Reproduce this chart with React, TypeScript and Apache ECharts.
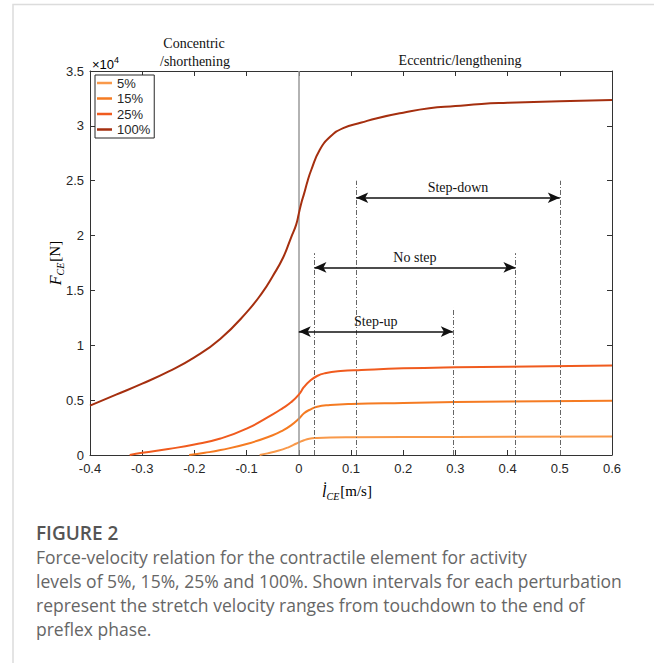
import React, { useEffect, useRef } from "react";
import * as echarts from "echarts";

// Velocity of the contractile element [m/s] and force [x10^4 N]
const x5 = [-0.075, -0.06, -0.04, -0.02, -0.01, 0, 0.01, 0.02, 0.035, 0.06, 0.1, 0.3, 0.6];
const f5 = [0, 0.015, 0.038, 0.07, 0.092, 0.115, 0.135, 0.148, 0.155, 0.16, 0.162, 0.165, 0.168];

const x15 = [-0.21, -0.18, -0.15, -0.1, -0.05, -0.03, -0.015, 0, 0.01, 0.02, 0.035, 0.06, 0.1, 0.2, 0.3, 0.4, 0.6];
const f15 = [0, 0.02, 0.045, 0.1, 0.18, 0.225, 0.27, 0.33, 0.38, 0.41, 0.44, 0.455, 0.465, 0.475, 0.483, 0.488, 0.495];

const x25 = [-0.324, -0.3, -0.25, -0.2, -0.15, -0.1, -0.05, -0.03, -0.015, 0, 0.01, 0.02, 0.035, 0.05, 0.08, 0.12, 0.2, 0.3, 0.4, 0.6];
const f25 = [0, 0.02, 0.055, 0.095, 0.15, 0.24, 0.37, 0.43, 0.48, 0.55, 0.62, 0.67, 0.72, 0.745, 0.765, 0.775, 0.79, 0.8, 0.805, 0.815];

const x100 = [-0.4, -0.35, -0.3, -0.25, -0.2, -0.15, -0.1, -0.07, -0.05, -0.03, -0.015, -0.005, 0, 0.005, 0.01, 0.017, 0.024, 0.04, 0.06, 0.085, 0.12, 0.15, 0.2, 0.25, 0.3, 0.35, 0.4, 0.5, 0.6];
const f100 = [0.45, 0.55, 0.65, 0.76, 0.89, 1.06, 1.3, 1.48, 1.63, 1.8, 1.98, 2.1, 2.2, 2.3, 2.38, 2.5, 2.6, 2.78, 2.9, 2.98, 3.03, 3.07, 3.12, 3.16, 3.18, 3.2, 3.21, 3.225, 3.235];

const seriesNames = ["5%", "15%", "25%", "100%"];

// Perturbation intervals: start / end velocity, arrow height and dashed-line top
const intervalNames = ["Step-up", "No step", "Step-down"];
const intervalStart = [0, 0.03, 0.11];
const intervalEnd = [0.295, 0.415, 0.5];
const intervalArrowY = [1.125, 1.71, 2.345];
const intervalTop = [1.34, 1.84, 2.5];

// Axis ticks
const xMin = -0.4, xMax = 0.6, xStep = 0.1;
const yMin = 0, yMax = 3.5, yStep = 0.5;

const captionTitle = "FIGURE 2";
const captionLines = [
  "Force-velocity relation for the contractile element for activity",
  "levels of 5%, 15%, 25% and 100%. Shown intervals for each perturbation",
  "represent the stretch velocity ranges from touchdown to the end of",
  "preflex phase.",
];

const colors = ["#f9994a", "#f57b22", "#f05b1e", "#a52f0f"];

const SANS = "Liberation Sans";
const SERIF = "Liberation Serif";
const AX = "#333333";

export default function App() {
  const ref = useRef<HTMLDivElement>(null);
  useEffect(() => {
    if (!ref.current) return;
    const chart = echarts.init(ref.current, null, { renderer: "svg" });
    const xs = [x5, x15, x25, x100];
    const fs = [f5, f15, f25, f100];

    const curveSeries = seriesNames.map((name, k) => ({
      name,
      type: "line",
      xAxisIndex: 0,
      yAxisIndex: 0,
      showSymbol: false,
      symbol: "none",
      smooth: 0.5,
      data: xs[k].map((x, i) => [x, fs[k][i]]),
      lineStyle: { color: colors[k], width: 2 },
      itemStyle: { color: colors[k] },
      z: 3 + k,
    }));

    const verticalLines: any[] = [];
    const uniq = new Map<number, number>();
    intervalStart.forEach((v, i) => {
      if (v !== 0) uniq.set(v, Math.max(uniq.get(v) || 0, intervalTop[i]));
    });
    intervalEnd.forEach((v, i) => uniq.set(v, Math.max(uniq.get(v) || 0, intervalTop[i])));
    uniq.forEach((top, v) => {
      verticalLines.push([
        { coord: [v, 0], symbol: "none", lineStyle: { color: "#666", width: 1, type: [5, 2, 1, 2] }, label: { show: false } },
        { coord: [v, top], symbol: "none" },
      ]);
    });
    const arrowLabel = { fontFamily: SERIF, fontSize: 14, color: "#111" };
    const arrows = intervalNames.map((name, i) => [
      {
        coord: [intervalStart[i], intervalArrowY[i]],
        symbol: "arrow",
        lineStyle: { color: "#111", width: 1.5, type: "solid" },
        label: {
          show: true,
          position: "insideMiddleTop",
          formatter: name,
          distance: 3,
          ...arrowLabel,
        },
      },
      { coord: [intervalEnd[i], intervalArrowY[i]], symbol: "arrow" },
    ]);

    const annotation = {
      name: "annot",
      type: "line",
      xAxisIndex: 0,
      yAxisIndex: 0,
      data: [],
      z: 10,
      markLine: {
        silent: true,
        animation: false,
        symbol: ["arrow", "arrow"],
        symbolSize: [8, 12],
        precision: 4,
        label: { show: false, ...arrowLabel },
        data: [
          [
            { coord: [0, yMin], symbol: "none", lineStyle: { color: "#9a9a9a", width: 1.5, type: "solid" }, label: { show: false } },
            { coord: [0, yMax], symbol: "none" },
          ],
          ...verticalLines,
          ...arrows,
        ],
      },
    };

    const rich = {
      f: { fontFamily: SERIF, fontStyle: "italic", fontSize: 16, lineHeight: 20, verticalAlign: "middle", color: "#222" },
      s: { fontFamily: SERIF, fontStyle: "italic", fontSize: 10, lineHeight: 10, verticalAlign: "bottom", color: "#222", padding: [0, 1, 0, 0] },
      n: { fontFamily: SERIF, fontSize: 15, lineHeight: 20, verticalAlign: "middle", color: "#222" },
    };

    const graphic: any[] = [
      {
        type: "rect",
        shape: { x: 13, y: 4.5, width: 700, height: 700 },
        style: { fill: "none", stroke: "#dcdcdc", lineWidth: 1.5 },
        silent: true,
      },
      { type: "text", x: 194, y: 43, style: { text: "Concentric", font: `14px "${SERIF}"`, fill: "#111", align: "center", verticalAlign: "middle" } },
      { type: "text", x: 195, y: 61, style: { text: "/shorthening", font: `14px "${SERIF}"`, fill: "#111", align: "center", verticalAlign: "middle" } },
      { type: "text", x: 460, y: 60, style: { text: "Eccentric/lengthening", font: `14px "${SERIF}"`, fill: "#111", align: "center", verticalAlign: "middle" } },
      {
        type: "text",
        x: 92,
        y: 63,
        style: {
          text: "{a|×10}{b|4}",
          align: "left",
          verticalAlign: "middle",
          rich: {
            a: { fontFamily: SANS, fontSize: 13, lineHeight: 16, verticalAlign: "bottom", color: "#262626" },
            b: { fontFamily: SANS, fontSize: 9, lineHeight: 16, verticalAlign: "top", color: "#262626" },
          },
        },
      },
      {
        type: "text",
        x: 55,
        y: 263,
        rotation: Math.PI / 2,
        style: { text: "{f|F}{s|CE}{n|[N]}", align: "center", verticalAlign: "middle", rich },
      },
      {
        type: "text",
        x: 347,
        y: 491,
        style: { text: "{f|l̇}{s|CE}{n|[m/s]}", align: "center", verticalAlign: "middle", rich },
      },
      {
        type: "text",
        x: 36,
        y: 533,
        style: { text: captionTitle, font: `600 19px "Open Sans"`, fill: "#555", align: "left", verticalAlign: "middle" },
      },
      ...captionLines.map((t, i) => ({
        type: "text",
        x: 36,
        y: 557 + i * 24,
        style: { text: t, font: `17.5px "Open Sans"`, fill: "#666", align: "left", verticalAlign: "middle" },
      })),
    ];

    const axisCommon = {
      type: "value",
      splitLine: { show: false },
      axisLine: { show: true, onZero: false, lineStyle: { color: AX, width: 1 } },
      axisTick: { show: true, inside: true, length: 5, lineStyle: { color: AX, width: 1 } },
    };

    chart.setOption({
      animation: false,
      grid: { left: 90, top: 71, width: 522, height: 384, containLabel: false },
      legend: {
        data: seriesNames,
        orient: "vertical",
        left: 95,
        top: 75,
        icon: "rect",
        itemWidth: 15,
        itemHeight: 2.5,
        itemGap: 1.5,
        padding: [1, 4, 1.5, 2],
        backgroundColor: "#fff",
        borderColor: "#262626",
        borderWidth: 1,
        borderRadius: 0,
        textStyle: { fontFamily: SANS, fontSize: 13, color: "#262626", lineHeight: 14 },
        selectedMode: false,
        z: 20,
      },
      xAxis: [
        {
          ...axisCommon,
          position: "bottom",
          min: xMin,
          max: xMax,
          interval: xStep,
          axisLabel: {
            margin: 7,
            fontFamily: SANS,
            fontSize: 13,
            color: "#262626",
            formatter: (v: number) => (Math.abs(v) < 1e-9 ? "0" : v.toFixed(1)),
          },
        },
        {
          ...axisCommon,
          position: "top",
          min: xMin,
          max: xMax,
          interval: xStep,
          axisLabel: { show: false },
        },
      ],
      yAxis: [
        {
          ...axisCommon,
          position: "left",
          min: yMin,
          max: yMax,
          interval: yStep,
          axisLabel: { margin: 6, fontFamily: SANS, fontSize: 13, color: "#262626" },
        },
        {
          ...axisCommon,
          position: "right",
          min: yMin,
          max: yMax,
          interval: yStep,
          axisLabel: { show: false },
        },
      ],
      series: [...curveSeries, annotation],
      graphic,
    });
    return () => chart.dispose();
  }, []);
  return (
    <div
      ref={ref}
      style={{ position: "fixed", left: 0, top: 0, width: 654, height: 663, background: "#fff" }}
    />
  );
}
